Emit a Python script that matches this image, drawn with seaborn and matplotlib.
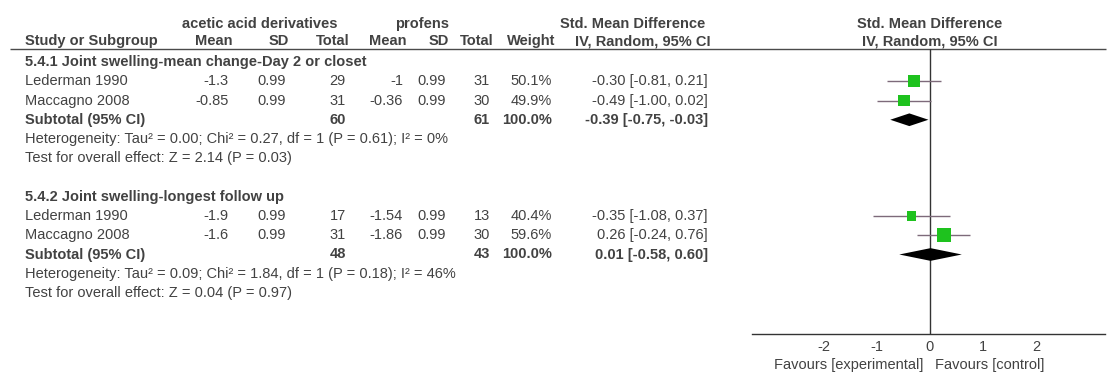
import matplotlib
matplotlib.use("Agg")
import matplotlib.pyplot as plt
import numpy as np
import pandas as pd
import seaborn as sns

# ---- data -------------------------------------------------------------
group_titles = ["5.4.1 Joint swelling-mean change-Day 2 or closet",
                "5.4.2 Joint swelling-longest follow up"]

g1_studies = ["Lederman 1990", "Maccagno 2008"]
g1_mean_e = [-1.3, -0.85]
g1_sd_e = [0.99, 0.99]
g1_n_e = [29, 31]
g1_mean_c = [-1, -0.36]
g1_sd_c = [0.99, 0.99]
g1_n_c = [31, 30]
g1_weight = [50.1, 49.9]
g1_smd = [-0.30, -0.49]
g1_lo = [-0.81, -1.00]
g1_hi = [0.21, 0.02]
g1_total = [60, 61, 100.0]
g1_pooled = [-0.39, -0.75, -0.03]
g1_het = "Heterogeneity: Tau\u00b2 = 0.00; Chi\u00b2 = 0.27, df = 1 (P = 0.61); I\u00b2 = 0%"
g1_test = "Test for overall effect: Z = 2.14 (P = 0.03)"

g2_studies = ["Lederman 1990", "Maccagno 2008"]
g2_mean_e = [-1.9, -1.6]
g2_sd_e = [0.99, 0.99]
g2_n_e = [17, 31]
g2_mean_c = [-1.54, -1.86]
g2_sd_c = [0.99, 0.99]
g2_n_c = [13, 30]
g2_weight = [40.4, 59.6]
g2_smd = [-0.35, 0.26]
g2_lo = [-1.08, -0.24]
g2_hi = [0.37, 0.76]
g2_total = [48, 43, 100.0]
g2_pooled = [0.01, -0.58, 0.60]
g2_het = "Heterogeneity: Tau\u00b2 = 0.09; Chi\u00b2 = 1.84, df = 1 (P = 0.18); I\u00b2 = 46%"
g2_test = "Test for overall effect: Z = 0.04 (P = 0.97)"

tick_values = [-2, -1, 0, 1, 2]
favours_left = "Favours [experimental]"
favours_right = "Favours [control]"

# ---- style -------------------------------------------------------------
sns.set_theme(style="white")
plt.rcParams["font.family"] = ["Liberation Sans", "DejaVu Sans"]
plt.rcParams["axes.unicode_minus"] = False

W, H = 1108, 374
fs = 10.5
txt = "#424242"
green = "#1ec21e"
ci_col = "#7d6a7a"

fig = plt.figure(figsize=(W / 100, H / 100), dpi=100)

# background axes in pixel units for the table layout
bg = fig.add_axes([0, 0, 1, 1])
bg.set_xlim(0, W)
bg.set_ylim(H, 0)
bg.axis("off")

row0_y, row_h = 62, 19.25


def ry(r):
    return row0_y + row_h * r


def put(x, r, s, ha="right", bold=False, y=None):
    bg.text(x, ry(r) if y is None else y, s, ha=ha, va="center", fontsize=fs,
            color=txt, fontweight="bold" if bold else "normal")


# column anchors (right edges)
cx = dict(study=25, me=229, sde=286, ne=346, mc=403, sdc=446, nc=490,
          wt=552, ci=708)

# header rows
hy1, hy2 = 24, 41
bg.text(260, hy1, "acetic acid derivatives", ha="center", va="center",
        fontsize=fs, color=txt, fontweight="bold")
bg.text(422, hy1, "profens", ha="center", va="center", fontsize=fs,
        color=txt, fontweight="bold")
bg.text(633, hy1, "Std. Mean Difference", ha="center", va="center",
        fontsize=fs, color=txt, fontweight="bold")
put(cx["study"], 0, "Study or Subgroup", ha="left", bold=True, y=hy2)
for key, lab in [("me", "Mean"), ("sde", "SD"), ("ne", "Total"),
                 ("mc", "Mean"), ("sdc", "SD"), ("nc", "Total"),
                 ("wt", "Weight"), ("ci", "IV, Random, 95% CI")]:
    put(cx[key] + 3, 0, lab, bold=True, y=hy2)
bg.hlines(49, 10, 1106, color="#4a4a4a", lw=1.0)


def fmt_ci(e, lo, hi):
    return f"{e:.2f} [{lo:.2f}, {hi:.2f}]"


groups = [
    dict(start=0, title=group_titles[0], studies=g1_studies, me=g1_mean_e,
         sde=g1_sd_e, ne=g1_n_e, mc=g1_mean_c, sdc=g1_sd_c, nc=g1_n_c,
         wt=g1_weight, smd=g1_smd, lo=g1_lo, hi=g1_hi, tot=g1_total,
         pool=g1_pooled, het=g1_het, test=g1_test),
    dict(start=7, title=group_titles[1], studies=g2_studies, me=g2_mean_e,
         sde=g2_sd_e, ne=g2_n_e, mc=g2_mean_c, sdc=g2_sd_c, nc=g2_n_c,
         wt=g2_weight, smd=g2_smd, lo=g2_lo, hi=g2_hi, tot=g2_total,
         pool=g2_pooled, het=g2_het, test=g2_test),
]

study_rows = []
for g in groups:
    r = g["start"]
    put(cx["study"], r, g["title"], ha="left", bold=True)
    for i, name in enumerate(g["studies"]):
        rr = r + 1 + i
        put(cx["study"], rr, name, ha="left")
        put(cx["me"], rr, f"{g['me'][i]:g}")
        put(cx["sde"], rr, f"{g['sde'][i]:.2f}")
        put(cx["ne"], rr, f"{g['ne'][i]}")
        put(cx["mc"], rr, f"{g['mc'][i]:g}")
        put(cx["sdc"], rr, f"{g['sdc'][i]:.2f}")
        put(cx["nc"], rr, f"{g['nc'][i]}")
        put(cx["wt"], rr, f"{g['wt'][i]:.1f}%")
        put(cx["ci"], rr, fmt_ci(g["smd"][i], g["lo"][i], g["hi"][i]))
        study_rows.append(dict(row=rr, smd=g["smd"][i], lo=g["lo"][i],
                               hi=g["hi"][i], weight=g["wt"][i]))
    rs = r + 1 + len(g["studies"])
    put(cx["study"], rs, "Subtotal (95% CI)", ha="left", bold=True)
    put(cx["ne"], rs, f"{g['tot'][0]}", bold=True)
    put(cx["nc"], rs, f"{g['tot'][1]}", bold=True)
    put(cx["wt"], rs, f"{g['tot'][2]:.1f}%", bold=True)
    put(cx["ci"], rs, fmt_ci(*g["pool"]), bold=True)
    put(cx["study"], rs + 1, g["het"], ha="left")
    put(cx["study"], rs + 2, g["test"], ha="left")
    g["sub_row"] = rs

df = pd.DataFrame(study_rows)

# ---- forest panel ------------------------------------------------------
px_left, px_right, px_top, px_bot = 752, 1105, 49, 334
zero_px, unit_px = 930, 53.0
ax = fig.add_axes([px_left / W, (H - px_bot) / H, (px_right - px_left) / W,
                   (px_bot - px_top) / H])
ax.set_xlim((px_left - zero_px) / unit_px, (px_right - zero_px) / unit_px)
ax.set_ylim((px_bot - row0_y) / row_h, (px_top - row0_y) / row_h)
ax.patch.set_alpha(0)

# confidence intervals
ax.hlines(df["row"], df["lo"], df["hi"], color=ci_col, lw=1.0, zorder=2)
# study squares, side proportional to weight
side_pt = df["weight"] * 0.24 * 0.72
sns.scatterplot(data=df, x="smd", y="row", marker="s", s=side_pt ** 2,
                color=green, edgecolor=green, linewidth=0, zorder=3, ax=ax,
                legend=False)

# pooled diamonds
half_h = 0.33
for g in groups:
    e, lo, hi = g["pool"]
    r = g["sub_row"]
    ax.fill([lo, e, hi, e], [r, r - half_h, r, r + half_h], color="black",
            lw=0, zorder=4)

ax.axvline(0, color="#333333", lw=1.0, zorder=1)

for s in ["top", "left", "right"]:
    ax.spines[s].set_visible(False)
ax.spines["bottom"].set_color("#333333")
ax.spines["bottom"].set_linewidth(1.0)
ax.set_yticks([])
ax.set_xticks(tick_values)
ax.set_xticklabels([f"{t:g}" for t in tick_values])
ax.tick_params(axis="x", direction="inout", length=9, width=1.0,
               colors="#333333", labelsize=fs, labelcolor=txt, pad=0)
ax.set_xlabel("")
ax.set_ylabel("")

# panel headings and direction labels
bg.text(zero_px, hy1, "Std. Mean Difference", ha="center", va="center",
        fontsize=fs, color=txt, fontweight="bold")
bg.text(zero_px, hy2, "IV, Random, 95% CI", ha="center", va="center",
        fontsize=fs, color=txt, fontweight="bold")
bg.text(zero_px - 7, 365, favours_left, ha="right", va="center", fontsize=fs,
        color=txt)
bg.text(zero_px + 5, 365, favours_right, ha="left", va="center", fontsize=fs,
        color=txt)

fig.savefig("out.png", dpi=100)
